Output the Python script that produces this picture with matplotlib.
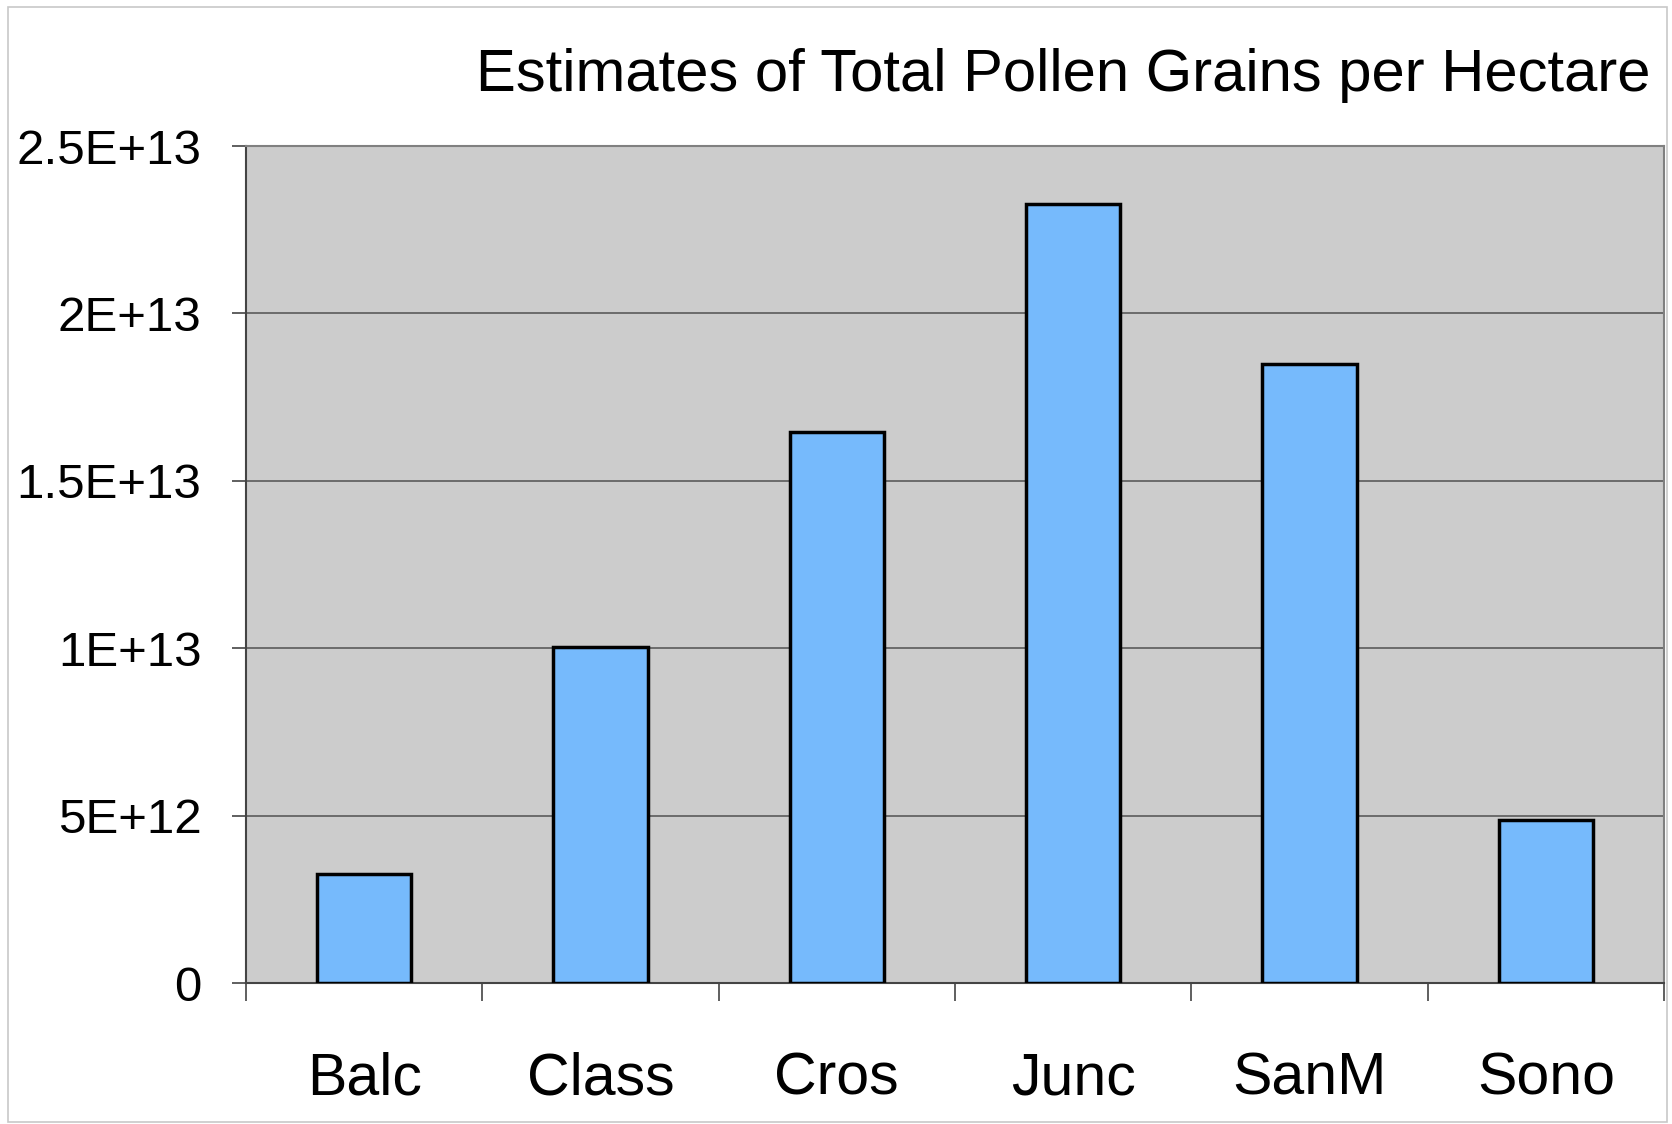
import numpy as np
import matplotlib.pyplot as plt
from matplotlib.patches import Rectangle

plt.rcParams['font.family'] = ['Liberation Sans', 'DejaVu Sans']

sites = ['Balc', 'Class', 'Cros', 'Junc', 'SanM', 'Sono']
pollen_per_ha = [3.25e12, 1.005e13, 1.646e13, 2.326e13, 1.85e13, 4.87e12]
y_ticks = [0, 5e12, 1e13, 1.5e13, 2e13, 2.5e13]
y_tick_labels = ['0', '5E+12', '1E+13', '1.5E+13', '2E+13', '2.5E+13']

fig = plt.figure(figsize=(16.72, 11.24), dpi=100)
fig.patches.append(Rectangle((0.005, 0.002), 0.992, 0.992, transform=fig.transFigure,
                             fill=False, edgecolor='#c8c8c8', linewidth=1.2))

ax = fig.add_axes([0.1471, 0.1254, 0.8481, 0.7447])
ax.set_facecolor('#cccccc')

x = np.arange(len(sites)) + 0.5
ax.bar(x, pollen_per_ha, width=0.4, color='#76bafc', edgecolor='black',
       linewidth=2.5, zorder=3)

ax.set_xlim(0, len(sites))
ax.set_ylim(0, 2.5e13)

ax.set_yticks(y_ticks)
ax.set_yticklabels(y_tick_labels, fontsize=35.5)
ax.yaxis.grid(True, color='#5a5a5a', linewidth=1.2, zorder=1)
ax.set_axisbelow(True)

# category boundaries get the tick marks, labels sit in the middle
ax.set_xticks(np.arange(len(sites) + 1))
ax.set_xticklabels([])
ax.set_xticks(x, minor=True)
ax.set_xticklabels(sites, minor=True, fontsize=42.5)
ax.tick_params(axis='x', which='major', length=13, width=1.2, color='#444444', direction='out')
ax.tick_params(axis='x', which='minor', length=0, pad=49)
ax.tick_params(axis='y', length=10, width=1.2, color='#444444', pad=22)

for side in ['left', 'bottom']:
    ax.spines[side].set_color('#444444')
    ax.spines[side].set_linewidth(1.5)
for side in ['top', 'right']:
    ax.spines[side].set_color('#808080')
    ax.spines[side].set_linewidth(1.5)

fig.text(0.987, 0.933, 'Estimates of Total Pollen Grains per Hectare',
         ha='right', va='center', fontsize=43)

fig.savefig('out.png', dpi=100)
